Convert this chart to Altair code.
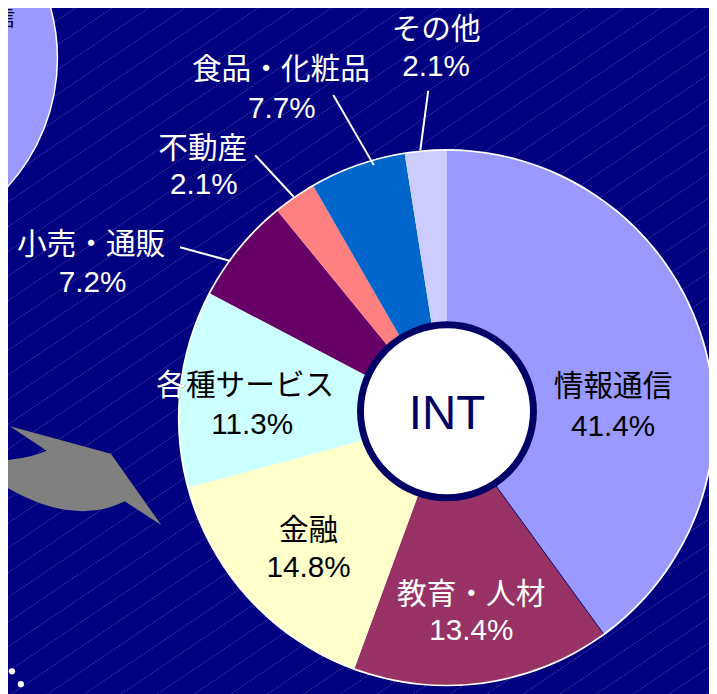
import math
import altair as alt
import pandas as pd

# ---------------- data ----------------
categories = ["情報通信", "教育・人材", "金融", "各種サービス", "小売・通販", "不動産", "食品・化粧品", "その他"]
pct_labels = ["41.4%", "13.4%", "14.8%", "11.3%", "7.2%", "2.1%", "7.7%", "2.1%"]
# slice sizes as drawn in the picture (share of the full circle, %)
slice_share = [40.0, 15.6, 15.2, 11.9, 6.4, 2.6, 5.8, 2.5]
slice_colors = ["#9999FF", "#993366", "#FFFFCC", "#CCFFFF", "#660066", "#FF8080", "#0066CC", "#CCCCFF"]
text_colors = ["black", "white", "black", "black", "white", "white", "white", "white"]
center_label = "INT"

# ---------------- layout (pixels in the chart area) ----------------
W, H = 709, 686
PIE_CX, PIE_CY, PIE_R = 443.5, 410.5, 270
HOLE_CX, HOLE_CY, HOLE_R = 444, 404, 87.5
FONT = "Liberation Sans, Noto Sans CJK JP"
FS = 30

# label anchor points: (name x, name y, pct x, pct y)
label_pos = {
    "情報通信": (612, 380, 612, 420),
    "教育・人材": (468.5, 590, 468.5, 626),
    "金融": (304, 525, 304, 563),
    "各種サービス": (150, 379, 247, 418),
    "小売・通販": (84, 235.5, 85.5, 274),
    "不動産": (197, 139, 198, 175),
    "食品・化粧品": (276, 59, 277, 98),
    "その他": (433, 18, 433, 56),
}
leaders = [
    (425, 80, 417, 140),
    (329, 84, 370, 155),
    (250, 145, 289, 187),
    (174, 238, 225, 252),
]

pie_df = pd.DataFrame({
    "cat": categories,
    "share": slice_share,
    "color": slice_colors,
    "order": list(range(len(categories))),
})

lab_rows = []
for c, p, tc in zip(categories, pct_labels, text_colors):
    nx, ny, px, py = label_pos[c]
    lab_rows.append({"cat": c, "pct": p, "tc": tc, "nx": nx, "ny": ny, "px": px, "py": py})
lab_df = pd.DataFrame(lab_rows)

one = pd.DataFrame({"a": [0]})

# ---------------- background hatch ----------------
hatch = alt.Chart(alt.sequence(-16, 36, as_="k")).transform_calculate(
    c="367.2 + 25 * datum.k",
    xa="-10", xb="720",
    ya="datum.c + 6.76", yb="datum.c - 486.7",
).mark_rule(color="#FFFFFF", opacity=0.3, strokeWidth=1, strokeDash=[1, 1]).encode(
    x=alt.X("xa:Q", scale=None, axis=None),
    x2="xb:Q",
    y=alt.Y("ya:Q", scale=None, axis=None),
    y2="yb:Q",
)

# top-left partial pie
side_circle = alt.Chart(one).mark_arc(
    theta=0, theta2=2 * math.pi, radius=193, fill="#9999FF", stroke="white", strokeWidth=1.5
).encode(x=alt.value(-143), y=alt.value(47))

side_text1 = alt.Chart(one).mark_text(
    text="情報通信", align="right", baseline="middle", font=FONT, fontSize=21, color="black"
).encode(x=alt.value(7), y=alt.value(8))
side_text2 = alt.Chart(one).mark_text(
    text="41.4%", align="right", baseline="middle", font=FONT, fontSize=15, color="black"
).encode(x=alt.value(-2), y=alt.value(34))

# gray arrow
arrow_path = ("M -1 -0.11 L -0.8 -0.15 Q -0.5 -0.17 -0.33 -0.25 L -0.70 -0.50 "
              "L 0.32 -0.22 L 0.83 0.50 L 0.46 0.26 Q -0.07 0.53 -0.80 0.08 L -1 -0.02 Z")
arrow = alt.Chart(one).mark_point(
    shape=arrow_path, size=40000, filled=True, fill="#808080", opacity=1, strokeWidth=0
).encode(x=alt.value(72), y=alt.value(469))

# dots bottom-left
dots_df = pd.DataFrame({"x": [-8, -4, 4, 13], "y": [637, 653, 667, 680]})
dots = alt.Chart(dots_df).mark_circle(color="white", size=40, opacity=1).encode(
    x=alt.X("x:Q", scale=None, axis=None), y=alt.Y("y:Q", scale=None, axis=None)
)

# pie
rim = alt.Chart(one).mark_arc(
    theta=0, theta2=2 * math.pi, radius=PIE_R + 1.7, fill="white"
).encode(x=alt.value(PIE_CX), y=alt.value(PIE_CY))

pie = alt.Chart(pie_df).mark_arc(radius=PIE_R, strokeWidth=0).encode(
    theta=alt.Theta("share:Q", stack=True),
    order=alt.Order("order:Q"),
    color=alt.Color("color:N", scale=None, legend=None),
    x=alt.value(PIE_CX),
    y=alt.value(PIE_CY),
)

# thin dark edge at the end of the first slice
edge = alt.Chart(pie_df).transform_filter(alt.datum.order == 0).transform_calculate(
    a="datum.share / 100 * 2 * PI",
    x1=f"{PIE_CX}", y1=f"{PIE_CY}",
    x2=f"{PIE_CX} + {PIE_R} * sin(datum.a)",
    y2=f"{PIE_CY} - {PIE_R} * cos(datum.a)",
).mark_rule(color="#000066", strokeWidth=1).encode(
    x=alt.X("x1:Q", scale=None, axis=None), x2="x2:Q",
    y=alt.Y("y1:Q", scale=None, axis=None), y2="y2:Q",
)

hole = alt.Chart(one).mark_arc(
    theta=0, theta2=2 * math.pi, radius=HOLE_R, fill="white", stroke="#000066", strokeWidth=7
).encode(x=alt.value(HOLE_CX), y=alt.value(HOLE_CY))

hole_text = alt.Chart(one).mark_text(
    text=center_label, font="Liberation Sans Narrow, Liberation Sans", fontSize=48,
    color="#000066", align="center", baseline="middle"
).encode(x=alt.value(452 - 8), y=alt.value(416 - 8))

# leader lines
lead_df = pd.DataFrame(leaders, columns=["x1", "y1", "x2", "y2"])
lead = alt.Chart(lead_df).mark_rule(color="white", strokeWidth=2).encode(
    x=alt.X("x1:Q", scale=None, axis=None), x2="x2:Q",
    y=alt.Y("y1:Q", scale=None, axis=None), y2="y2:Q",
)

# labels
names_center = alt.Chart(lab_df).transform_filter(
    alt.datum.cat != "各種サービス"
).mark_text(align="center", baseline="middle", font=FONT, fontSize=FS).encode(
    x=alt.X("nx:Q", scale=None, axis=None), y=alt.Y("ny:Q", scale=None, axis=None),
    text="cat:N", color=alt.Color("tc:N", scale=None, legend=None),
)
names_left = alt.Chart(lab_df).transform_filter(
    alt.datum.cat == "各種サービス"
).mark_text(align="left", baseline="middle", font=FONT, fontSize=FS, color="black").encode(
    x=alt.X("nx:Q", scale=None, axis=None), y=alt.Y("ny:Q", scale=None, axis=None),
    text="cat:N",
)
first_char = alt.Chart(lab_df).transform_filter(
    alt.datum.cat == "各種サービス"
).transform_calculate(ch="substring(datum.cat, 0, 1)").mark_text(
    align="left", baseline="middle", font=FONT, fontSize=FS, color="white"
).encode(
    x=alt.X("nx:Q", scale=None, axis=None), y=alt.Y("ny:Q", scale=None, axis=None),
    text="ch:N",
)
pcts = alt.Chart(lab_df).mark_text(align="center", baseline="middle", font=FONT, fontSize=FS).encode(
    x=alt.X("px:Q", scale=None, axis=None), y=alt.Y("py:Q", scale=None, axis=None),
    text="pct:N", color=alt.Color("tc:N", scale=None, legend=None),
)

chart = alt.layer(
    hatch, side_circle, side_text1, side_text2, arrow, dots,
    rim, pie, edge, hole, hole_text, lead, names_center, names_left, first_char, pcts,
).properties(
    width=W, height=H, background="#000080", padding=0,
    autosize=alt.AutoSizeParams(type="none"),
).configure_view(stroke=None)

chart.save("out.html", embed_options={"renderer": "svg", "actions": False})
